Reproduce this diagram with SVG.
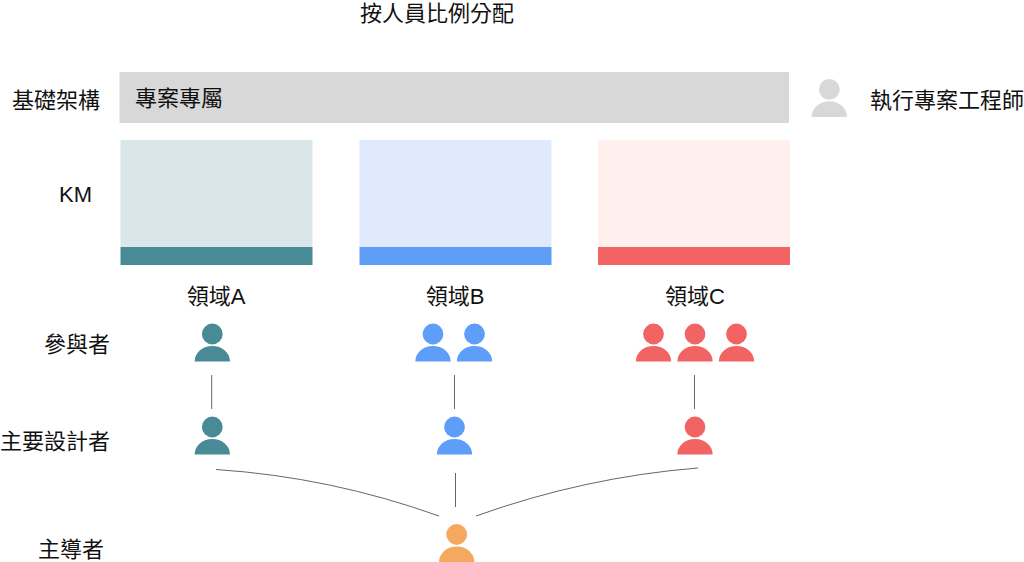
<svg xmlns="http://www.w3.org/2000/svg" width="1024" height="562" viewBox="0 0 1024 562">
<style>
text{font-family:"Liberation Sans","Noto Sans CJK TC",sans-serif;font-size:22px;fill:#111}
.m{text-anchor:middle}
.conn{fill:none;stroke:#666;stroke-width:1}
.teal{fill:#488b97}.blue{fill:#5f9ef8}.red{fill:#f26464}.orange{fill:#f4a95f}.gray{fill:#d8d8d8}
</style>
<defs>
<g id="p"><circle cx="0" cy="0" r="10.4"/><path d="M-17.7 27.6A17.7 15.7 0 0 1 17.7 27.6Z"/></g>
</defs>
<rect width="1024" height="562" fill="#fff"/>
<text id="title" class="m" x="437" y="21">按人員比例分配</text>
<g id="row-labels">
<text x="12" y="108">基礎架構</text>
<text x="59" y="202">KM</text>
<text x="44" y="352">參與者</text>
<text x="0" y="449">主要設計者</text>
<text x="38" y="557">主導者</text>
</g>
<g id="infra"><rect class="gray" x="119.5" y="72" width="669.5" height="51"/><text x="135" y="106">專案專屬</text></g>
<g id="km-a"><rect x="120.5" y="140" width="192" height="107" fill="#dae7e8"/><rect class="teal" x="120.5" y="247" width="192" height="18"/><text class="m" x="216" y="304">領域A</text></g>
<g id="km-b"><rect x="359.5" y="140" width="192" height="107" fill="#dfeafc"/><rect class="blue" x="359.5" y="247" width="192" height="18"/><text class="m" x="455" y="304">領域B</text></g>
<g id="km-c"><rect x="598" y="140" width="192" height="107" fill="#ffefed"/><rect class="red" x="598" y="247" width="192" height="18"/><text class="m" x="695" y="304">領域C</text></g>
<g id="engineer"><use href="#p" x="829.3" y="89.3" class="gray"/><text x="870" y="108">執行專案工程師</text></g>
<g id="participants-a"><use href="#p" x="212.3" y="334" class="teal"/></g>
<g id="participants-b"><use href="#p" x="433" y="334" class="blue"/><use href="#p" x="474.5" y="334" class="blue"/></g>
<g id="participants-c"><use href="#p" x="653.5" y="334" class="red"/><use href="#p" x="695" y="334" class="red"/><use href="#p" x="736.5" y="334" class="red"/></g>
<g id="designer-a"><use href="#p" x="212.3" y="427" class="teal"/></g>
<g id="designer-b"><use href="#p" x="454.5" y="427" class="blue"/></g>
<g id="designer-c"><use href="#p" x="695" y="427" class="red"/></g>
<g id="lead"><use href="#p" x="456.7" y="534.5" class="orange"/></g>
<g id="connectors">
<path class="conn" d="M211.7 375V409M454.5 375V409M694.5 375V409M455.5 473V507"/>
<path class="conn" d="M216 469.5Q330 477 439 516"/>
<path class="conn" d="M476 516Q585 477 698 468"/>
</g>
</svg>
